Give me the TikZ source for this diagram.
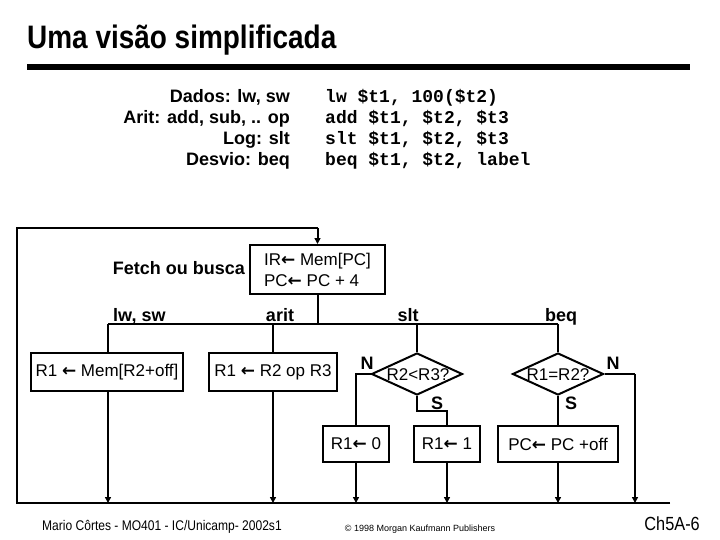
\documentclass[tikz,border=0pt]{standalone}
\usepackage{fontspec}
\setmainfont{Liberation Sans}
\newfontfamily\monofont{Liberation Mono}
\newfontfamily\titlefont[FakeStretch=0.86]{Liberation Sans}
\newfontfamily\footfont[FakeStretch=0.86]{Liberation Sans}
\newfontfamily\arrowfont{DejaVu Sans}
\newcommand{\larr}{{\arrowfont\bfseries ←}}
\usetikzlibrary{shapes.geometric,arrows.meta}
\tikzset{
  conn/.style={line width=2pt, line join=miter},
  arr/.style={conn, -{Triangle[width=6pt,length=6pt]}},
  procbox/.style={draw, line width=2pt, inner sep=0pt, font=\fontsize{17}{21}\selectfont},
  decision/.style={draw, diamond, line width=2pt, inner sep=0pt, minimum width=91pt, minimum height=42pt},
  dtext/.style={font=\fontsize{17}{20}\selectfont},
  blab/.style={font=\fontsize{18}{21}\selectfont\bfseries, inner sep=0pt},
  codel/.style={font=\fontsize{18}{21}\selectfont\monofont\bfseries, inner sep=0pt, anchor=base west},
}
\begin{document}
\begin{tikzpicture}[x=1pt,y=-1pt]
\useasboundingbox (0,0) rectangle (720,540);
% title
\node[anchor=base west, inner sep=0pt, font=\fontsize{32.5}{35}\titlefont\bfseries] (title) at (27,49) {Uma visão simplificada};
\fill (27,64) rectangle (690,70);
% instruction classes
\node[blab, anchor=base east] (c1) at (290,102.5) {Dados: lw, sw};
\node[blab, anchor=base east] (c2) at (290,124) {Arit: add, sub, .. op};
\node[blab, anchor=base east] (c3) at (290,145) {Log: slt};
\node[blab, anchor=base east] (c4) at (290,166) {Desvio: beq};
\node[codel] (m1) at (325,102.5) {lw \$t1, 100(\$t2)};
\node[codel] (m2) at (325,124) {add \$t1, \$t2, \$t3};
\node[codel] (m3) at (325,145) {slt \$t1, \$t2, \$t3};
\node[codel] (m4) at (325,166) {beq \$t1, \$t2, label};
% fetch
\node[procbox, minimum width=135pt, minimum height=49pt, align=left] (fetch) at (317.5,269.5) {IR\larr\ Mem[PC]\\PC\larr\ PC + 4};
\node[blab, anchor=east] (fetchlab) at (245,268) {Fetch ou busca};
% level 2
\coordinate (hl) at (108,324);
\coordinate (hr) at (558,324);
\node[blab, anchor=base west] (lwsw) at (113,321) {lw, sw};
\node[blab, anchor=base] (arit) at (280,321) {arit};
\node[blab, anchor=base] (slt) at (408,321) {slt};
\node[blab, anchor=base] (beq) at (561,321) {beq};
\node[procbox, minimum width=152pt, minimum height=38pt] (b1) at (107,372) {R1 \larr\ Mem[R2+off]};
\node[procbox, minimum width=128pt, minimum height=38pt] (b2) at (273,372) {R1 \larr\ R2 op R3};
\node[decision] (d1) at (417,374) {};
\node[dtext] (d1t) at (418,375) {R2<R3?};
\node[decision] (d2) at (558,374) {};
\node[dtext] (d2t) at (558,375) {R1=R2?};
\node[blab] (n1) at (367,363) {N};
\node[blab] (s1) at (437,403) {S};
\node[blab] (s2) at (571,403) {S};
\node[blab] (n2) at (613,363) {N};
\node[procbox, minimum width=66pt, minimum height=36pt] (b3) at (356,444) {R1\larr\ 0};
\node[procbox, minimum width=66pt, minimum height=36pt] (b4) at (447,444) {R1\larr\ 1};
\node[procbox, minimum width=120pt, minimum height=36pt] (b5) at (558,444) {PC\larr\ PC +off};
% bottom bus
\coordinate (bl) at (17,503);
\coordinate (br) at (670,503);
\coordinate (tl) at (17,228);
\coordinate (nr) at (635,374);
\coordinate (sj) at (417,411);
% connectors
\draw[conn] (br) -- (bl) -- (tl) -- (tl -| fetch.north);
\draw[arr] (tl -| fetch.north) -- (fetch.north);
\draw[conn] (fetch.south) -- (fetch.south |- hl);
\draw[conn] (hl) -- (hr);
\draw[conn] (hl) -- (hl |- b1.north);
\draw[conn] (b2.north |- hl) -- (b2.north);
\draw[conn] (d1.north |- hl) -- (d1.north);
\draw[conn] (hr) -- (d2.north);
\draw[conn] (d1.west) -- (d1.west -| b3.north) -- (b3.north);
\draw[conn] (d1.south) -- (sj) -- (sj -| b4.north) -- (b4.north);
\draw[conn] (d2.south) -- (b5.north);
\draw[conn] (d2.east) -- (nr);
\draw[arr] (nr) -- (nr |- bl);
\draw[arr] (hl |- b1.south) -- (hl |- bl);
\draw[arr] (b2.south) -- (b2.south |- bl);
\draw[arr] (b3.south) -- (b3.south |- bl);
\draw[arr] (b4.south) -- (b4.south |- bl);
\draw[arr] (b5.south) -- (b5.south |- bl);
% footer
\node[anchor=west, inner sep=0pt, font=\fontsize{14}{16}\footfont] (f1) at (42,527) {Mario Côrtes - MO401 - IC/Unicamp- 2002s1};
\node[inner sep=0pt, font=\fontsize{9}{10}\selectfont] (f2) at (420,529) {© 1998 Morgan Kaufmann Publishers};
\node[anchor=east, inner sep=0pt, font=\fontsize{19}{21}\footfont] (f3) at (700,524) {Ch5A-6};
\end{tikzpicture}
\end{document}
